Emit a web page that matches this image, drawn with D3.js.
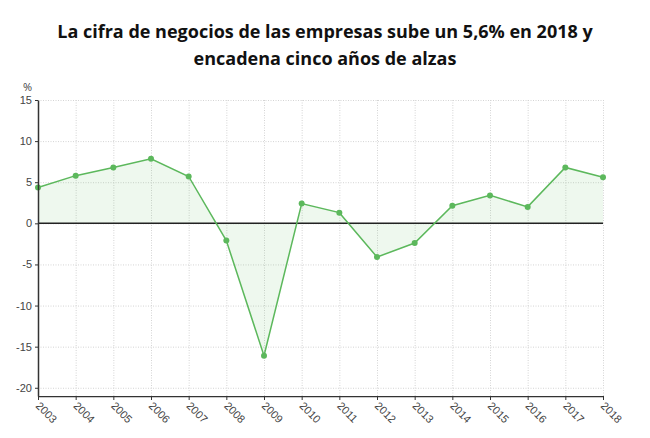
<!DOCTYPE html>
<html>
<head>
<meta charset="utf-8">
<script src="https://cdn.jsdelivr.net/npm/d3@7"></script>
<style>
  body { margin: 0; background: #fff; }
  svg { font-family: "Open Sans", sans-serif; }
  .grid line { stroke: #d4d4d4; stroke-dasharray: 1,1.5; }
  .grid path { display: none; }
  .axis text { fill: #444; font-size: 11px; }
</style>
</head>
<body>
<div id="chart"></div>
<script>
var years = ["2003","2004","2005","2006","2007","2008","2009","2010","2011","2012","2013","2014","2015","2016","2017","2018"];
var values = [4.35, 5.8, 6.8, 7.85, 5.7, -2.1, -16.1, 2.4, 1.3, -4.1, -2.4, 2.15, 3.4, 2.0, 6.8, 5.6];
var yTicks = [15, 10, 5, 0, -5, -10, -15, -20];
var titleLines = ["La cifra de negocios de las empresas sube un 5,6% en 2018 y", "encadena cinco años de alzas"];

var W = 650, H = 438;
var margin = { top: 100, right: 47, bottom: 42, left: 38 },
    width = W - margin.left - margin.right,
    height = H - margin.top - margin.bottom;

var data = years.map(function (y, i) { return { year: y, v: values[i] }; });

var x = d3.scalePoint().domain(years).range([0, width]);
var y = d3.scaleLinear().domain([-21, 15]).range([height, 0]);

var svg = d3.select("#chart").append("svg")
    .attr("width", W)
    .attr("height", H);

// recorte de las etiquetas inferiores
svg.append("clipPath")
    .attr("id", "clipLabels")
    .append("rect")
    .attr("x", -margin.left)
    .attr("y", 0)
    .attr("width", W)
    .attr("height", 423 - margin.top - height);

// título
svg.append("text")
    .attr("x", 325)
    .attr("text-anchor", "middle")
    .style("font-weight", "bold")
    .style("font-size", "18px")
    .style("fill", "#111")
    .selectAll("tspan")
    .data(titleLines)
    .enter().append("tspan")
    .attr("x", 325)
    .attr("y", function (d, i) { return 38 + i * 27; })
    .text(function (d) { return d; });

var g = svg.append("g")
    .attr("transform", "translate(" + margin.left + "," + margin.top + ")");

// rejilla
g.append("g")
    .attr("class", "grid")
    .call(d3.axisLeft(y).tickValues(yTicks).tickSize(-width).tickFormat(""));

g.append("g")
    .attr("class", "grid")
    .attr("transform", "translate(0," + height + ")")
    .call(d3.axisBottom(x).tickSize(-height).tickFormat(""));

// área
var area = d3.area()
    .x(function (d) { return x(d.year); })
    .y0(y(0))
    .y1(function (d) { return y(d.v); });

g.append("path")
    .datum(data)
    .attr("d", area)
    .style("fill", "#5cb85c")
    .style("opacity", 0.1);

// línea del cero
g.append("line")
    .attr("x1", 0)
    .attr("x2", width)
    .attr("y1", y(0))
    .attr("y2", y(0))
    .style("stroke", "#222")
    .style("stroke-width", 1.5);

var line = d3.line()
    .x(function (d) { return x(d.year); })
    .y(function (d) { return y(d.v); });

g.append("path")
    .datum(data)
    .attr("d", line)
    .style("fill", "none")
    .style("stroke", "#5cb85c")
    .style("stroke-width", 1.5);

g.selectAll(".dot")
    .data(data)
    .enter().append("circle")
    .attr("class", "dot")
    .attr("cx", function (d) { return x(d.year); })
    .attr("cy", function (d) { return y(d.v); })
    .attr("r", 3)
    .style("fill", "#5cb85c");

// ejes
var yAxis = g.append("g")
    .attr("class", "axis")
    .call(d3.axisLeft(y).tickValues(yTicks).tickSize(3).tickSizeOuter(0)
        .tickFormat(function (d) { return String(d); }));
yAxis.select(".domain").style("stroke", "#333").style("stroke-width", 1.5);
yAxis.selectAll(".tick line").style("stroke", "#333");

var xAxis = g.append("g")
    .attr("class", "axis")
    .attr("transform", "translate(0," + height + ")")
    .call(d3.axisBottom(x).tickSize(4).tickSizeOuter(0));
xAxis.select(".domain").style("stroke", "#333").style("stroke-width", 1.5);
xAxis.selectAll(".tick line").style("stroke", "#333");
xAxis.selectAll(".tick text")
    .attr("transform", "rotate(45)")
    .attr("x", 5)
    .attr("y", 6)
    .attr("dy", "0.35em")
    .style("text-anchor", "start");
xAxis.attr("clip-path", "url(#clipLabels)");

// unidad
svg.append("text")
    .attr("x", 23)
    .attr("y", 91)
    .style("font-size", "11px")
    .style("fill", "#444")
    .text("%");
</script>
</body>
</html>
